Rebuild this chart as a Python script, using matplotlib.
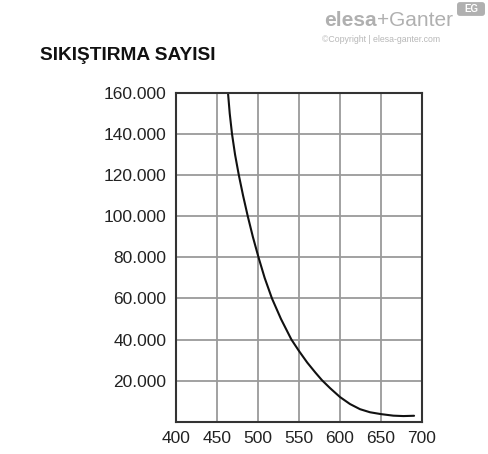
import matplotlib
matplotlib.use("Agg")
import matplotlib.pyplot as plt
from matplotlib.patches import FancyBboxPatch

plt.rcParams['font.family'] = ['Liberation Sans', 'DejaVu Sans']

title = "SIKIŞTIRMA SAYISI"
temperature = [463.4, 465.5, 468.3, 472.0, 476.6, 481.8, 487.5, 493.7, 500.6,
               508.1, 517, 528, 540.7, 550, 560, 570, 578, 588, 600, 612.2, 624.4,
               636.6, 650, 665, 677.3, 690.3]
cycles = [160000, 150000, 140000, 130000, 120000, 110000, 100000, 90000, 80000,
          70000, 60000, 50000, 40000, 34400, 28800, 23900, 20200, 16300, 12000,
          8600, 6100, 4600, 3700, 2950, 2750, 2900]
x_ticks = [400, 450, 500, 550, 600, 650, 700]
y_ticks = [20000, 40000, 60000, 80000, 100000, 120000, 140000, 160000]
y_labels = ["20.000", "40.000", "60.000", "80.000", "100.000", "120.000", "140.000", "160.000"]

fig = plt.figure(figsize=(4.88, 4.54), dpi=100)
ax = fig.add_axes([0.3607, 0.0711, 0.5041, 0.7241])
ax.set_xlim(400, 700)
ax.set_ylim(0, 160000)
ax.set_xticks(x_ticks)
ax.set_xticklabels([str(v) for v in x_ticks])
ax.set_yticks(y_ticks)
ax.set_yticklabels(y_labels)
ax.grid(True, color='#9a9a9a', linewidth=1.3)
ax.set_axisbelow(True)
for s in ax.spines.values():
    s.set_color('#333333')
    s.set_linewidth(1.5)
ax.tick_params(length=0, labelsize=12.5, colors='#222222')
ax.tick_params(axis='x', pad=7)
ax.tick_params(axis='y', pad=7)
ax.plot(temperature, cycles, color='#111111', linewidth=1.5,
        solid_capstyle='round', solid_joinstyle='round')

fig.text(40/488, 1 - 55/454, title, fontsize=13.8, fontweight='bold', color='#111111',
         va='center', ha='left')

# logo
fig.text(377/488, 1 - 21/454, "elesa", fontsize=15, fontweight='bold', color='#b0b0b0',
         va='center', ha='right')
fig.text(377/488, 1 - 21/454, "+Ganter", fontsize=15, color='#b0b0b0',
         va='center', ha='left')
fig.text(322/488, 1 - 40/454, "©Copyright | elesa-ganter.com", fontsize=6.3, color='#b8b8b8',
         va='center', ha='left')
box = FancyBboxPatch((458/488, 1 - 15/454), 26/488, 12/454,
                     boxstyle="round,pad=0.002,rounding_size=0.006",
                     transform=fig.transFigure, facecolor='#b0b0b0', edgecolor='none')
fig.patches.append(box)
fig.text(471/488, 1 - 9/454, "EG", fontsize=7, fontweight='bold', color='white',
         va='center', ha='center')

fig.savefig("out.png", dpi=100, facecolor='white')
